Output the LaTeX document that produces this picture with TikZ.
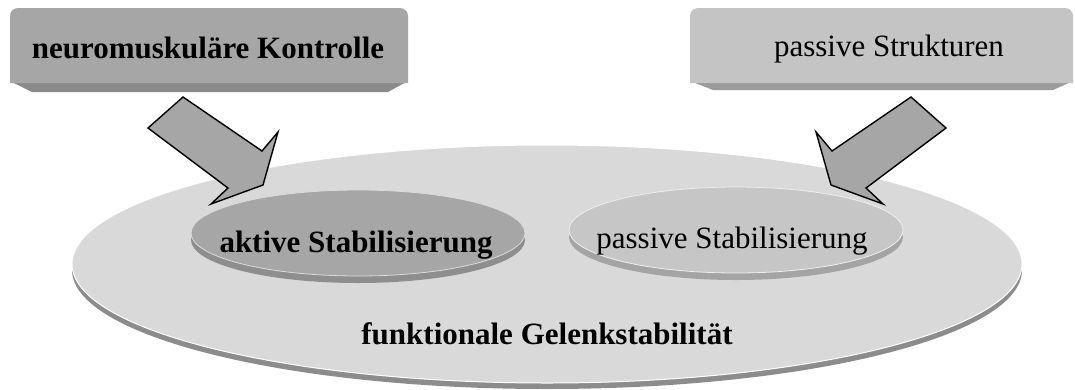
\documentclass[tikz,border=0pt]{standalone}
\usepackage{fontspec}
\setmainfont{Liberation Serif}
\definecolor{bigface}{HTML}{D9D9D9}
\definecolor{bigrim}{HTML}{8C8C8C}
\definecolor{aface}{HTML}{A6A6A6}
\definecolor{arim}{HTML}{8E8E8E}
\definecolor{pface}{HTML}{C6C6C6}
\definecolor{prim}{HTML}{A4A4A4}
\definecolor{boxAface}{HTML}{A6A6A6}
\definecolor{boxArim}{HTML}{8A8A8A}
\definecolor{boxBface}{HTML}{C4C4C4}
\definecolor{boxBrim}{HTML}{9A9A9A}
\definecolor{arrowfill}{HTML}{A6A6A6}
\begin{document}
\begin{tikzpicture}[x=1pt,y=-1pt,
  lbl/.style={font=\fontsize{31}{36}\selectfont, anchor=base, inner sep=0pt},
  blockarrow/.style={fill=arrowfill, draw=black, line width=1.4pt, line join=miter},
  hilite/.style={draw=white, line width=1pt}]
\useasboundingbox (0,0) rectangle (1075,389);

% big ellipse
\fill[bigrim] (547,270) ellipse [x radius=475, y radius=119];
\fill[bigface] (547,264) ellipse [x radius=475, y radius=119];
\draw[hilite] (547,264) ellipse [x radius=475, y radius=119];

% aktive ellipse
\fill[arim] (358,240) ellipse [x radius=167, y radius=43];
\fill[aface] (358,233) ellipse [x radius=167, y radius=43];
\draw[draw=white!60!aface, line width=0.8pt] (358,233) ellipse [x radius=167, y radius=43];

% passive ellipse
\fill[prim] (736,237) ellipse [x radius=167, y radius=43];
\fill[pface] (736,230) ellipse [x radius=167, y radius=43];
\draw[draw=white!70!pface, line width=0.8pt] (736,230) ellipse [x radius=167, y radius=43];

% left box
\fill[boxArim] (10,81) -- (32,92) -- (388,92) -- (408,81) -- cycle;
\fill[boxAface, rounded corners=8pt] (10,83) -- (10,8) -- (408,8) -- (408,83);
% right box
\fill[boxBrim] (690,81) -- (713,90) -- (1053,90) -- (1073,81) -- cycle;
\fill[boxBface, rounded corners=8pt] (690,83) -- (690,8) -- (1073,8) -- (1073,83);

% texts
\node[lbl] (nk) at (208,58) {\textbf{neuromuskuläre Kontrolle}};
\node[lbl] (ps) at (889,56) {passive Strukturen};
\node[lbl] (as) at (356,252) {\textbf{aktive Stabilisierung}};
\node[lbl] (pst) at (732,248) {passive Stabilisierung};
\node[lbl] (fg) at (547,344) {\textbf{funktionale Gelenkstabilität}};

% block arrows
\draw[blockarrow] (183,97) -- (262,151) -- (278,132) -- (263,185) -- (211,204) -- (228,188) -- (148,128) -- cycle;
\draw[blockarrow] (911,97) -- (832,151) -- (816,132) -- (831,185) -- (883,204) -- (866,188) -- (946,128) -- cycle;
\end{tikzpicture}
\end{document}
